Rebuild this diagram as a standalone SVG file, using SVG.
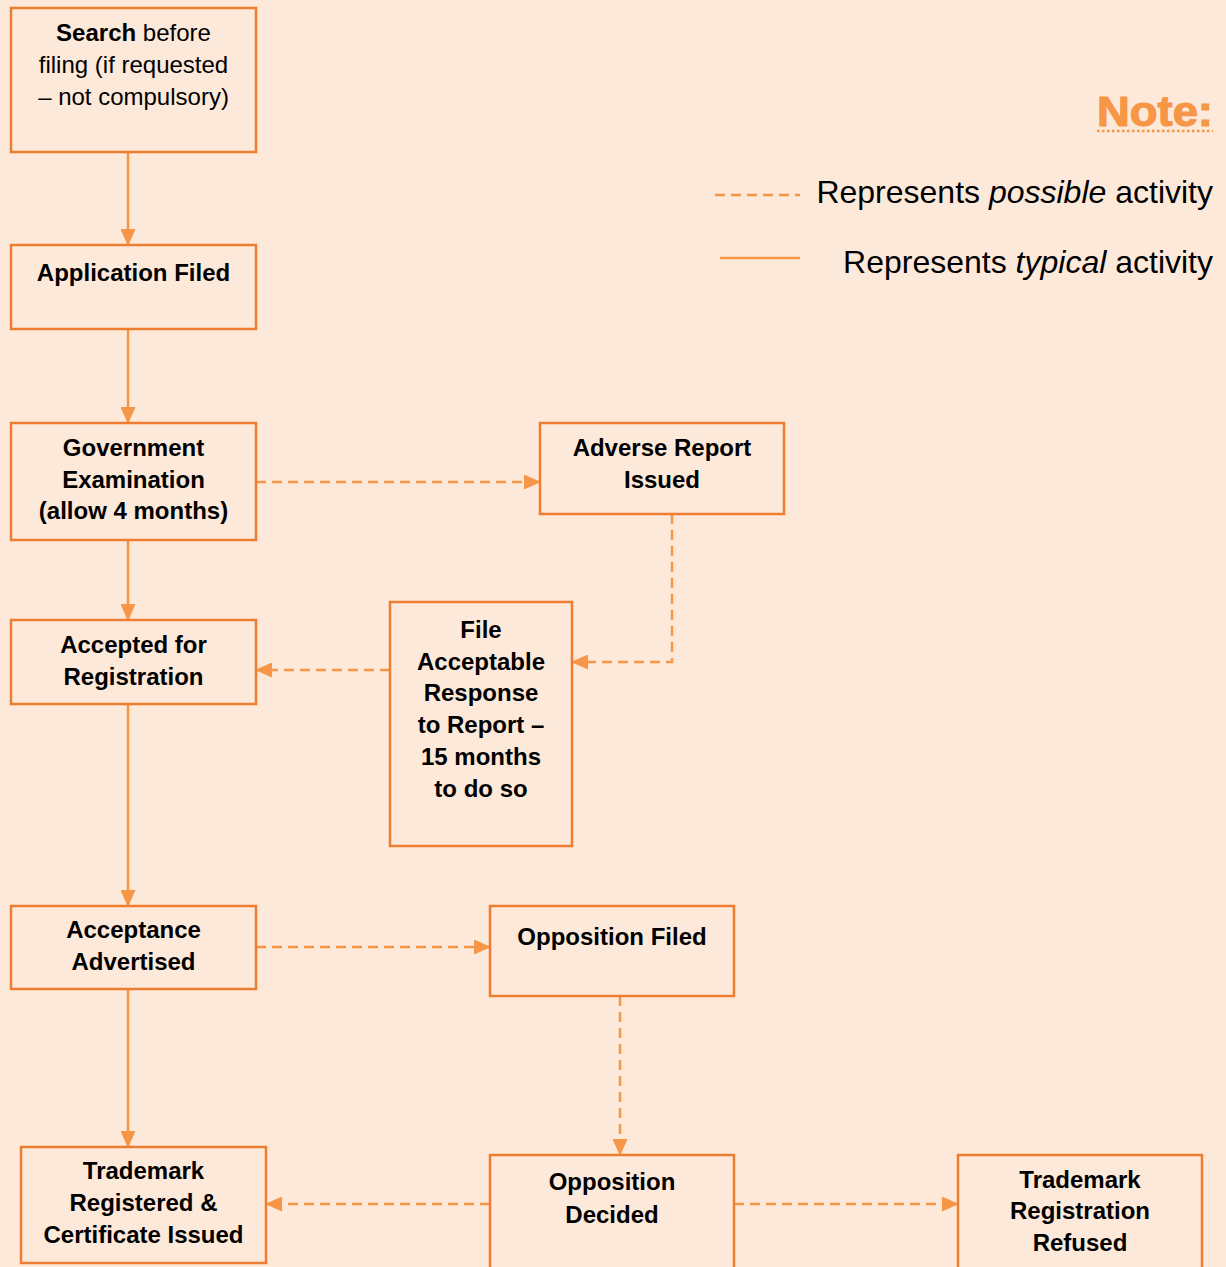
<svg xmlns="http://www.w3.org/2000/svg" width="1226" height="1267" viewBox="0 0 1226 1267">
<style>
.box{fill:#FDE9D9;stroke:#ED7D31;stroke-width:2.5}
.t{font-family:"Liberation Sans",Arial,sans-serif;font-size:24px;fill:#000;text-anchor:middle}
.b{font-weight:bold}
.solid{fill:none;stroke:#F79646;stroke-width:2.5}
.dash{fill:none;stroke:#F79646;stroke-width:2.5;stroke-dasharray:10 6}
.leg{font-family:"Liberation Sans",Arial,sans-serif;font-size:32px;fill:#000;text-anchor:end}
</style>
<defs>
<marker id="ah" markerUnits="userSpaceOnUse" markerWidth="17" markerHeight="15" refX="16" refY="7.5" orient="auto">
<path d="M0,0 L17,7.5 L0,15 Z" fill="#F79646"/>
</marker>
</defs>
<rect width="1226" height="1267" fill="#FDE9D9"/>

<g id="legend">
<text x="1213" y="126" font-family="'Liberation Sans',Arial,sans-serif" font-weight="bold" font-size="42" fill="#F79646" stroke="#F79646" stroke-width="1.2" text-anchor="end" textLength="116" lengthAdjust="spacingAndGlyphs">Note:</text>
<line x1="1097" y1="131" x2="1213" y2="131" stroke="#F79646" stroke-width="2.5" stroke-dasharray="2.5 2.5"/>
<line x1="715" y1="195" x2="800" y2="195" class="dash"/>
<text class="leg" x="1213" y="203">Represents <tspan font-style="italic">possible</tspan> activity</text>
<line x1="720" y1="258" x2="800" y2="258" class="solid"/>
<text class="leg" x="1213" y="273">Represents <tspan font-style="italic">typical</tspan> activity</text>
</g>

<g id="connectors">
<line class="solid" x1="128" y1="152" x2="128" y2="245" marker-end="url(#ah)"/>
<line class="solid" x1="128" y1="329" x2="128" y2="423" marker-end="url(#ah)"/>
<line class="solid" x1="128" y1="540" x2="128" y2="620" marker-end="url(#ah)"/>
<line class="solid" x1="128" y1="704" x2="128" y2="906" marker-end="url(#ah)"/>
<line class="solid" x1="128" y1="989" x2="128" y2="1147" marker-end="url(#ah)"/>
<line class="dash" x1="256" y1="482" x2="540" y2="482" marker-end="url(#ah)"/>
<path class="dash" d="M672,514 V662 H572" marker-end="url(#ah)"/>
<line class="dash" x1="390" y1="670" x2="256" y2="670" marker-end="url(#ah)"/>
<line class="dash" x1="256" y1="947" x2="490" y2="947" marker-end="url(#ah)"/>
<line class="dash" x1="620" y1="996" x2="620" y2="1155" marker-end="url(#ah)"/>
<line class="dash" x1="490" y1="1204" x2="266" y2="1204" marker-end="url(#ah)"/>
<line class="dash" x1="734" y1="1204" x2="958" y2="1204" marker-end="url(#ah)"/>
</g>

<g id="search">
<rect class="box" x="11" y="8" width="245" height="144"/>
<text class="t" x="133.5" y="41"><tspan class="b">Search</tspan> before</text>
<text class="t" x="133.5" y="73">filing (if requested</text>
<text class="t" x="133.5" y="105">– not compulsory)</text>
</g>

<g id="application">
<rect class="box" x="11" y="245" width="245" height="84"/>
<text class="t b" x="133.5" y="281">Application Filed</text>
</g>

<g id="examination">
<rect class="box" x="11" y="423" width="245" height="117"/>
<text class="t b" x="133.5" y="456">Government</text>
<text class="t b" x="133.5" y="488">Examination</text>
<text class="t b" x="133.5" y="519">(allow 4 months)</text>
</g>

<g id="adverse">
<rect class="box" x="540" y="423" width="244" height="91"/>
<text class="t b" x="662" y="456">Adverse Report</text>
<text class="t b" x="662" y="488">Issued</text>
</g>

<g id="accepted">
<rect class="box" x="11" y="620" width="245" height="84"/>
<text class="t b" x="133.5" y="653">Accepted for</text>
<text class="t b" x="133.5" y="685">Registration</text>
</g>

<g id="response">
<rect class="box" x="390" y="602" width="182" height="244"/>
<text class="t b" x="481" y="638">File</text>
<text class="t b" x="481" y="670">Acceptable</text>
<text class="t b" x="481" y="701">Response</text>
<text class="t b" x="481" y="733">to Report –</text>
<text class="t b" x="481" y="765">15 months</text>
<text class="t b" x="481" y="797">to do so</text>
</g>

<g id="advertised">
<rect class="box" x="11" y="906" width="245" height="83"/>
<text class="t b" x="133.5" y="938">Acceptance</text>
<text class="t b" x="133.5" y="970">Advertised</text>
</g>

<g id="opposition-filed">
<rect class="box" x="490" y="906" width="244" height="90"/>
<text class="t b" x="612" y="945">Opposition Filed</text>
</g>

<g id="registered">
<rect class="box" x="21" y="1147" width="245" height="116"/>
<text class="t b" x="143.5" y="1179">Trademark</text>
<text class="t b" x="143.5" y="1211">Registered &amp;</text>
<text class="t b" x="143.5" y="1243">Certificate Issued</text>
</g>

<g id="opposition-decided">
<rect class="box" x="490" y="1155" width="244" height="130"/>
<text class="t b" x="612" y="1190">Opposition</text>
<text class="t b" x="612" y="1223">Decided</text>
</g>

<g id="refused">
<rect class="box" x="958" y="1155" width="244" height="130"/>
<text class="t b" x="1080" y="1188">Trademark</text>
<text class="t b" x="1080" y="1219">Registration</text>
<text class="t b" x="1080" y="1251">Refused</text>
</g>
</svg>
